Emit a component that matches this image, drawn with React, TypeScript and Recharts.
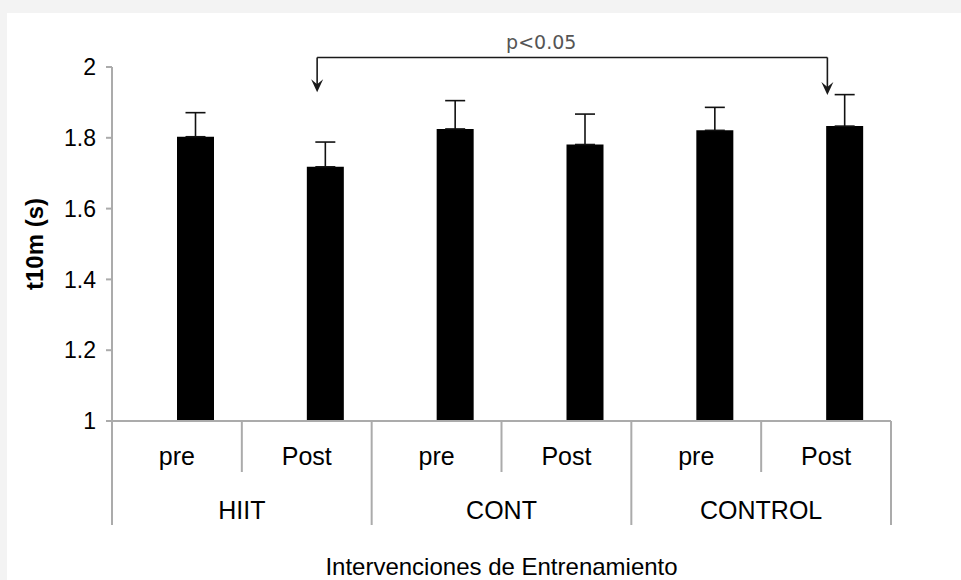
import React from "react";
import {
  BarChart,
  Bar,
  XAxis,
  YAxis,
  ErrorBar,
  Label,
  ReferenceLine,
} from "recharts";

const groups = ["HIIT", "CONT", "CONTROL"];
const conditions = ["pre", "Post", "pre", "Post", "pre", "Post"];
const means = [1.803, 1.718, 1.825, 1.781, 1.821, 1.833];
const errors = [0.068, 0.07, 0.08, 0.086, 0.065, 0.089];
const yTicks = [1, 1.2, 1.4, 1.6, 1.8, 2];

// significance bracket: HIIT Post vs CONTROL Post
const bracketX = [1.58, 5.51];
const bracketTop = 2.027;
const arrowTips = [1.929, 1.921];
const pLabel = "p<0.05";

const FONT = "'Liberation Sans', Arial, Helvetica, sans-serif";
const AXIS_GREY = "#ababab";

// one slot per condition, centred on i + 0.5 of a 0..6 numeric axis
// error bars are drawn upward only, like the original
const data = conditions.map((c, i) => ({
  x: i + 0.5,
  cond: c,
  mean: means[i],
  err: [0, errors[i]],
}));

// separators on the integers, condition labels on the halves
const xTicks: number[] = [];
for (let i = 0; i <= conditions.length; i++) {
  xTicks.push(i);
  if (i < conditions.length) xTicks.push(i + 0.5);
}

const XTick = (props: any) => {
  const { x, y, payload } = props;
  const v = payload.value as number;
  if (Number.isInteger(v)) {
    const groupEdge = v % 2 === 0;
    return (
      <g>
        <line
          x1={x}
          y1={y}
          x2={x}
          y2={y + (groupEdge ? 104 : 51)}
          stroke={AXIS_GREY}
          strokeWidth={2}
        />
        {!groupEdge && (
          <text
            x={x}
            y={y + 98}
            textAnchor="middle"
            fontSize={25}
            fontFamily={FONT}
            fill="#000"
          >
            {groups[(v - 1) / 2]}
          </text>
        )}
      </g>
    );
  }
  return (
    <text
      x={x}
      y={y + 44}
      textAnchor="middle"
      fontSize={25}
      fontFamily={FONT}
      fill="#000"
    >
      {conditions[Math.floor(v)]}
    </text>
  );
};

const ArrowLine = (props: any) => {
  const { x1, y1, x2, y2 } = props;
  return (
    <g>
      <line x1={x1} y1={y1} x2={x2} y2={y2 - 6} stroke="#1a1a1a" strokeWidth={1.6} />
      <path
        d={`M${x2 - 6},${y2 - 13} L${x2},${y2} L${x2 + 6},${y2 - 13} L${x2},${y2 - 8} Z`}
        fill="#1a1a1a"
      />
    </g>
  );
};

export default function App() {
  return (
    <div
      style={{
        position: "absolute",
        left: 0,
        top: 0,
        width: 961,
        height: 580,
        background: "#f3f3f3",
        overflow: "hidden",
      }}
    >
      <div
        style={{
          position: "absolute",
          left: 7,
          top: 13,
          right: 0,
          bottom: 0,
          background: "#ffffff",
        }}
      />
      <div style={{ position: "absolute", left: 0, top: 0 }}>
        <BarChart
          width={961}
          height={580}
          data={data}
          margin={{ top: 67, right: 70, bottom: 0, left: 0 }}
          barGap={0}
          style={{ fontFamily: FONT }}
        >
          <XAxis
            dataKey="x"
            type="number"
            domain={[0, conditions.length]}
            ticks={xTicks}
            interval={0}
            tickSize={0}
            tickMargin={0}
            height={159}
            tick={<XTick />}
            axisLine={{ stroke: AXIS_GREY, strokeWidth: 2 }}
            tickLine={false}
          >
            <Label
              value="Intervenciones de Entrenamiento"
              position="insideBottom"
              offset={5}
              style={{ fontSize: 24, fill: "#000", fontFamily: FONT }}
            />
          </XAxis>
          <YAxis
            domain={[1, 2]}
            ticks={yTicks}
            width={112}
            tickSize={6}
            tickMargin={10}
            allowDataOverflow
            axisLine={{ stroke: AXIS_GREY, strokeWidth: 2 }}
            tickLine={{ stroke: AXIS_GREY, strokeWidth: 2 }}
            tick={{ fill: "#000", fontSize: 23, fontFamily: FONT }}
          >
            <Label
              value="t10m (s)"
              angle={-90}
              position="center"
              dx={-22}
              style={{ fontSize: 24, fontWeight: 700, fill: "#000", fontFamily: FONT }}
            />
          </YAxis>
          {/* empty first series, keeps the bars right of the slot centre */}
          <Bar dataKey="pad" fill="none" barSize={37} isAnimationActive={false} />
          <Bar dataKey="mean" fill="#000" barSize={37} isAnimationActive={false}>
            <ErrorBar
              dataKey="err"
              direction="y"
              width={10}
              stroke="#111"
              strokeWidth={1.6}
              isAnimationActive={false}
            />
          </Bar>
          <ReferenceLine
            segment={[
              { x: bracketX[0], y: bracketTop },
              { x: bracketX[1], y: bracketTop },
            ]}
            stroke="#1a1a1a"
            strokeWidth={1.6}
            ifOverflow="visible"
          >
            <Label
              value={pLabel}
              position="top"
              offset={8}
              dx={-31}
              style={{ fontSize: 19, fill: "#555", fontFamily: "'DejaVu Sans', sans-serif" }}
            />
          </ReferenceLine>
          {bracketX.map((bx, i) => (
            <ReferenceLine
              key={i}
              segment={[
                { x: bx, y: bracketTop },
                { x: bx, y: arrowTips[i] },
              ]}
              ifOverflow="visible"
              shape={<ArrowLine />}
            />
          ))}
        </BarChart>
      </div>
    </div>
  );
}
